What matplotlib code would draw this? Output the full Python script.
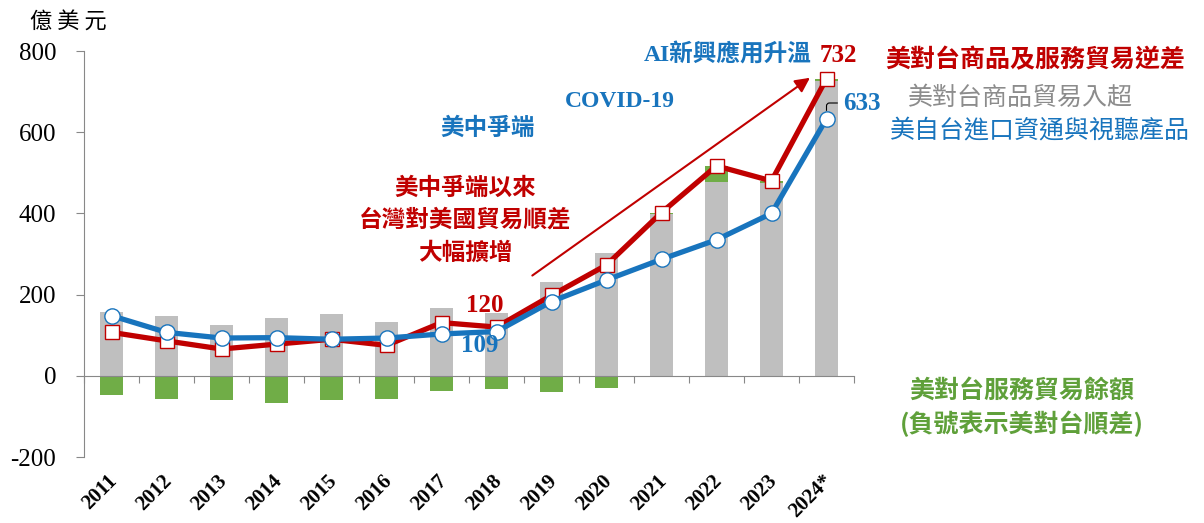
import matplotlib
matplotlib.use("Agg")
import matplotlib.pyplot as plt
import numpy as np

# 資料 (億美元)
years = ['2011', '2012', '2013', '2014', '2015', '2016', '2017',
         '2018', '2019', '2020', '2021', '2022', '2023', '2024*']
goods = [157, 148, 124, 143, 152, 133, 168, 154, 231, 303, 398, 478, 476, 727]
services = [-48, -57, -60, -66, -60, -56, -37, -33, -39, -30, 4, 39, 4, 5]
total = [107, 86, 66, 78, 90, 75, 131, 120, 198, 273, 402, 517, 480, 732]
ict = [148, 107, 93, 94, 90, 93, 103, 109, 183, 236, 287, 335, 400, 633]
yticks = [-200, 0, 200, 400, 600, 800]

RED = '#C00000'
BLUE = '#1874BD'
GRAY_BAR = '#BFBFBF'
GREEN = '#70AD47'
GREEN_TXT = '#5FA03A'
GRAY_TXT = '#8C8C8C'

CJK = ['Noto Sans CJK TC', 'DejaVu Sans']
MIX = ['Liberation Serif', 'Noto Sans CJK TC']
SERIF = 'Liberation Serif'

W, H = 1204, 523
fig = plt.figure(figsize=(W / 100, H / 100), dpi=100)
ax = fig.add_axes([84 / W, 1 - 457 / H, 770 / W, 406 / H])

x = np.arange(len(years))
goods = np.array(goods)
services = np.array(services)
pos = np.clip(services, 0, None)
neg = np.clip(services, None, 0)

ax.bar(x, goods, width=0.42, color=GRAY_BAR, zorder=1)
ax.bar(x, pos, bottom=goods, width=0.42, color=GREEN, zorder=1)
ax.bar(x, neg, width=0.42, color=GREEN, zorder=1)

ax.plot(x, total, color=RED, lw=3.8, marker='s', ms=10, mfc='white',
        mec=RED, mew=1.0, zorder=3)
ax.plot(x, ict, color=BLUE, lw=3.8, marker='o', ms=11, mfc='white',
        mec=BLUE, mew=1.0, zorder=4)

ax.set_xlim(-0.5, len(years) - 0.5)
ax.set_ylim(-200, 800)
ax.set_yticks(yticks)
ax.set_yticklabels([str(v) for v in yticks], fontsize=18, family=SERIF)
ax.tick_params(axis='y', length=6, color='#888888', pad=14)

for s in ['top', 'right']:
    ax.spines[s].set_visible(False)
ax.spines['left'].set_color('#888888')
ax.spines['bottom'].set_position(('data', 0))
ax.spines['bottom'].set_color('#888888')
ax.set_xticks(np.arange(len(years) + 1) - 0.5)
ax.set_xticklabels([])
ax.tick_params(axis='x', direction='out', length=5, color='#888888')

for i, yr in enumerate(years):
    ax.text(i + 0.05, -252, yr, rotation=45, rotation_mode='anchor',
            ha='right', va='center', fontsize=15, fontweight='bold',
            family=SERIF)

# 標註
fig.text(30 / W, 1 - 22 / H, '億 美 元', fontsize=16, family=CJK,
         va='center', ha='left')

ax.annotate('', xy=(12.74, 738), xytext=(7.61, 243),
            arrowprops=dict(arrowstyle='-|>', color=RED, lw=1.5,
                            mutation_scale=22), zorder=2)
ax.annotate('633', xy=(13, 633), xytext=(843, H - 103),
            textcoords='figure pixels',
            color=BLUE, fontsize=18, fontweight='bold', family=SERIF,
            va='center', ha='left',
            arrowprops=dict(arrowstyle='-', color='black', lw=0.8,
                            shrinkA=2, shrinkB=6,
                            connectionstyle='angle,angleA=0,angleB=90,rad=3'))

def ftext(px, py, s, **kw):
    fig.text(px / W, 1 - py / H, s, **kw)

ftext(812, 55, 'AI新興應用升溫', color=BLUE, fontsize=17, fontweight='bold',
      family=MIX, ha='right', va='center')
ftext(820, 55, '732', color=RED, fontsize=18, fontweight='bold',
      family=SERIF, ha='left', va='center')
ftext(1035, 60, '美對台商品及服務貿易逆差', color=RED, fontsize=18,
      fontweight='bold', family=CJK, ha='center', va='center')
ftext(1020, 98, '美對台商品貿易入超', color=GRAY_TXT, fontsize=18,
      family=CJK, ha='center', va='center')
ftext(1040, 130, '美自台進口資通與視聽產品', color=BLUE, fontsize=18,
      family=CJK, ha='center', va='center')
ftext(620, 101, 'COVID-19', color=BLUE, fontsize=17, fontweight='bold',
      family=SERIF, ha='center', va='center')
ftext(488, 128, '美中爭端', color=BLUE, fontsize=17, fontweight='bold',
      family=CJK, ha='center', va='center')
ftext(465, 220, '美中爭端以來\n台灣對美國貿易順差\n大幅擴增', color=RED,
      fontsize=17, fontweight='bold', family=CJK, ha='center', va='center',
      linespacing=1.45)
ftext(485, 306, '120', color=RED, fontsize=18, fontweight='bold',
      family=SERIF, ha='center', va='center')
ftext(480, 346, '109', color=BLUE, fontsize=18, fontweight='bold',
      family=SERIF, ha='center', va='center')
ftext(1022, 408, '美對台服務貿易餘額\n(負號表示美對台順差)', color=GREEN_TXT,
      fontsize=18, fontweight='bold', family=CJK, ha='center', va='center',
      linespacing=1.35)

fig.savefig('out.png', dpi=100)
